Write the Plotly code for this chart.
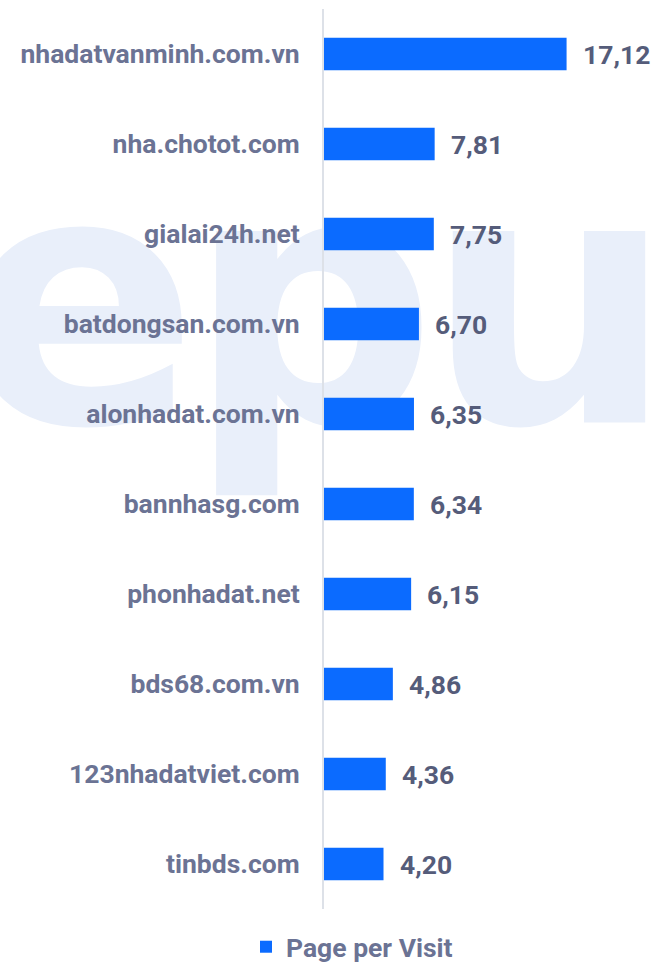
import plotly.graph_objects as go

sites = ["nhadatvanminh.com.vn", "nha.chotot.com", "gialai24h.net", "batdongsan.com.vn",
         "alonhadat.com.vn", "bannhasg.com", "phonhadat.net", "bds68.com.vn",
         "123nhadatviet.com", "tinbds.com"]
page_per_visit = [17.12, 7.81, 7.75, 6.70, 6.35, 6.34, 6.15, 4.86, 4.36, 4.20]
series_name = "Page per Visit"

watermark_letters = ["e", "p", "u"]

BAR = "#0b6bff"
LABEL = "#6b7394"
VALUE = "#555c7a"
FONT = "Roboto"

W, H = 654, 962
AXIS_X = 324
PLOT_TOP, PLOT_BOT = 9, 909

fig = go.Figure()

# background watermark (base subplot, drawn underneath the bars)
fig.add_trace(go.Scatter(
    x=[80, 312, 550], y=[335, 335, 335],
    mode="text", text=watermark_letters,
    textposition="middle center",
    textfont=dict(family="DejaVu Sans", size=350, color="#e9effa", weight="bold"),
    xaxis="x", yaxis="y", showlegend=False, hoverinfo="skip",
))

fig.add_trace(go.Bar(
    x=page_per_visit, y=sites, orientation="h",
    name=series_name, marker=dict(color=BAR, line=dict(width=0)),
    width=0.36, xaxis="x2", yaxis="y2", showlegend=True,
))

for s, v in zip(sites, page_per_visit):
    fig.add_annotation(
        x=v, y=s, xref="x2", yref="y2",
        text=f"{v:.2f}".replace(".", ","),
        showarrow=False, xanchor="left", yanchor="middle", xshift=14,
        font=dict(family=FONT, size=26.5, color=VALUE, weight="bold"),
    )

fig.update_layout(
    width=W, height=H,
    margin=dict(l=0, r=0, t=PLOT_TOP, b=H - PLOT_BOT),
    paper_bgcolor="white", plot_bgcolor="rgba(0,0,0,0)",
    font=dict(family=FONT, color=LABEL),
    xaxis=dict(domain=[0, 1], range=[0, W], visible=False, fixedrange=True),
    yaxis=dict(domain=[0, 1], range=[PLOT_BOT, PLOT_TOP], visible=False, fixedrange=True),
    xaxis2=dict(domain=[AXIS_X / W, 1], range=[0, 23.29], anchor="y2",
                showgrid=False, zeroline=False, showticklabels=False, ticks=""),
    yaxis2=dict(domain=[0, 1], anchor="x2", autorange="reversed",
                showline=True, linecolor="#dde1e8", linewidth=2,
                showgrid=False, ticks="", ticklabelstandoff=17,
                tickfont=dict(family=FONT, size=26.5, color=LABEL, weight="bold")),
    showlegend=True,
    legend=dict(orientation="h", xref="container", yref="container",
                x=246 / W, y=1 - 947 / H, xanchor="left", yanchor="middle",
                font=dict(family=FONT, size=26.5, color=LABEL, weight="bold"),
                bgcolor="rgba(0,0,0,0)"),
    bargap=0.64,
)

fig.write_html("out.html", config={"displayModeBar": False},
               post_script="document.body.style.margin='0';document.body.style.overflow='hidden';")
